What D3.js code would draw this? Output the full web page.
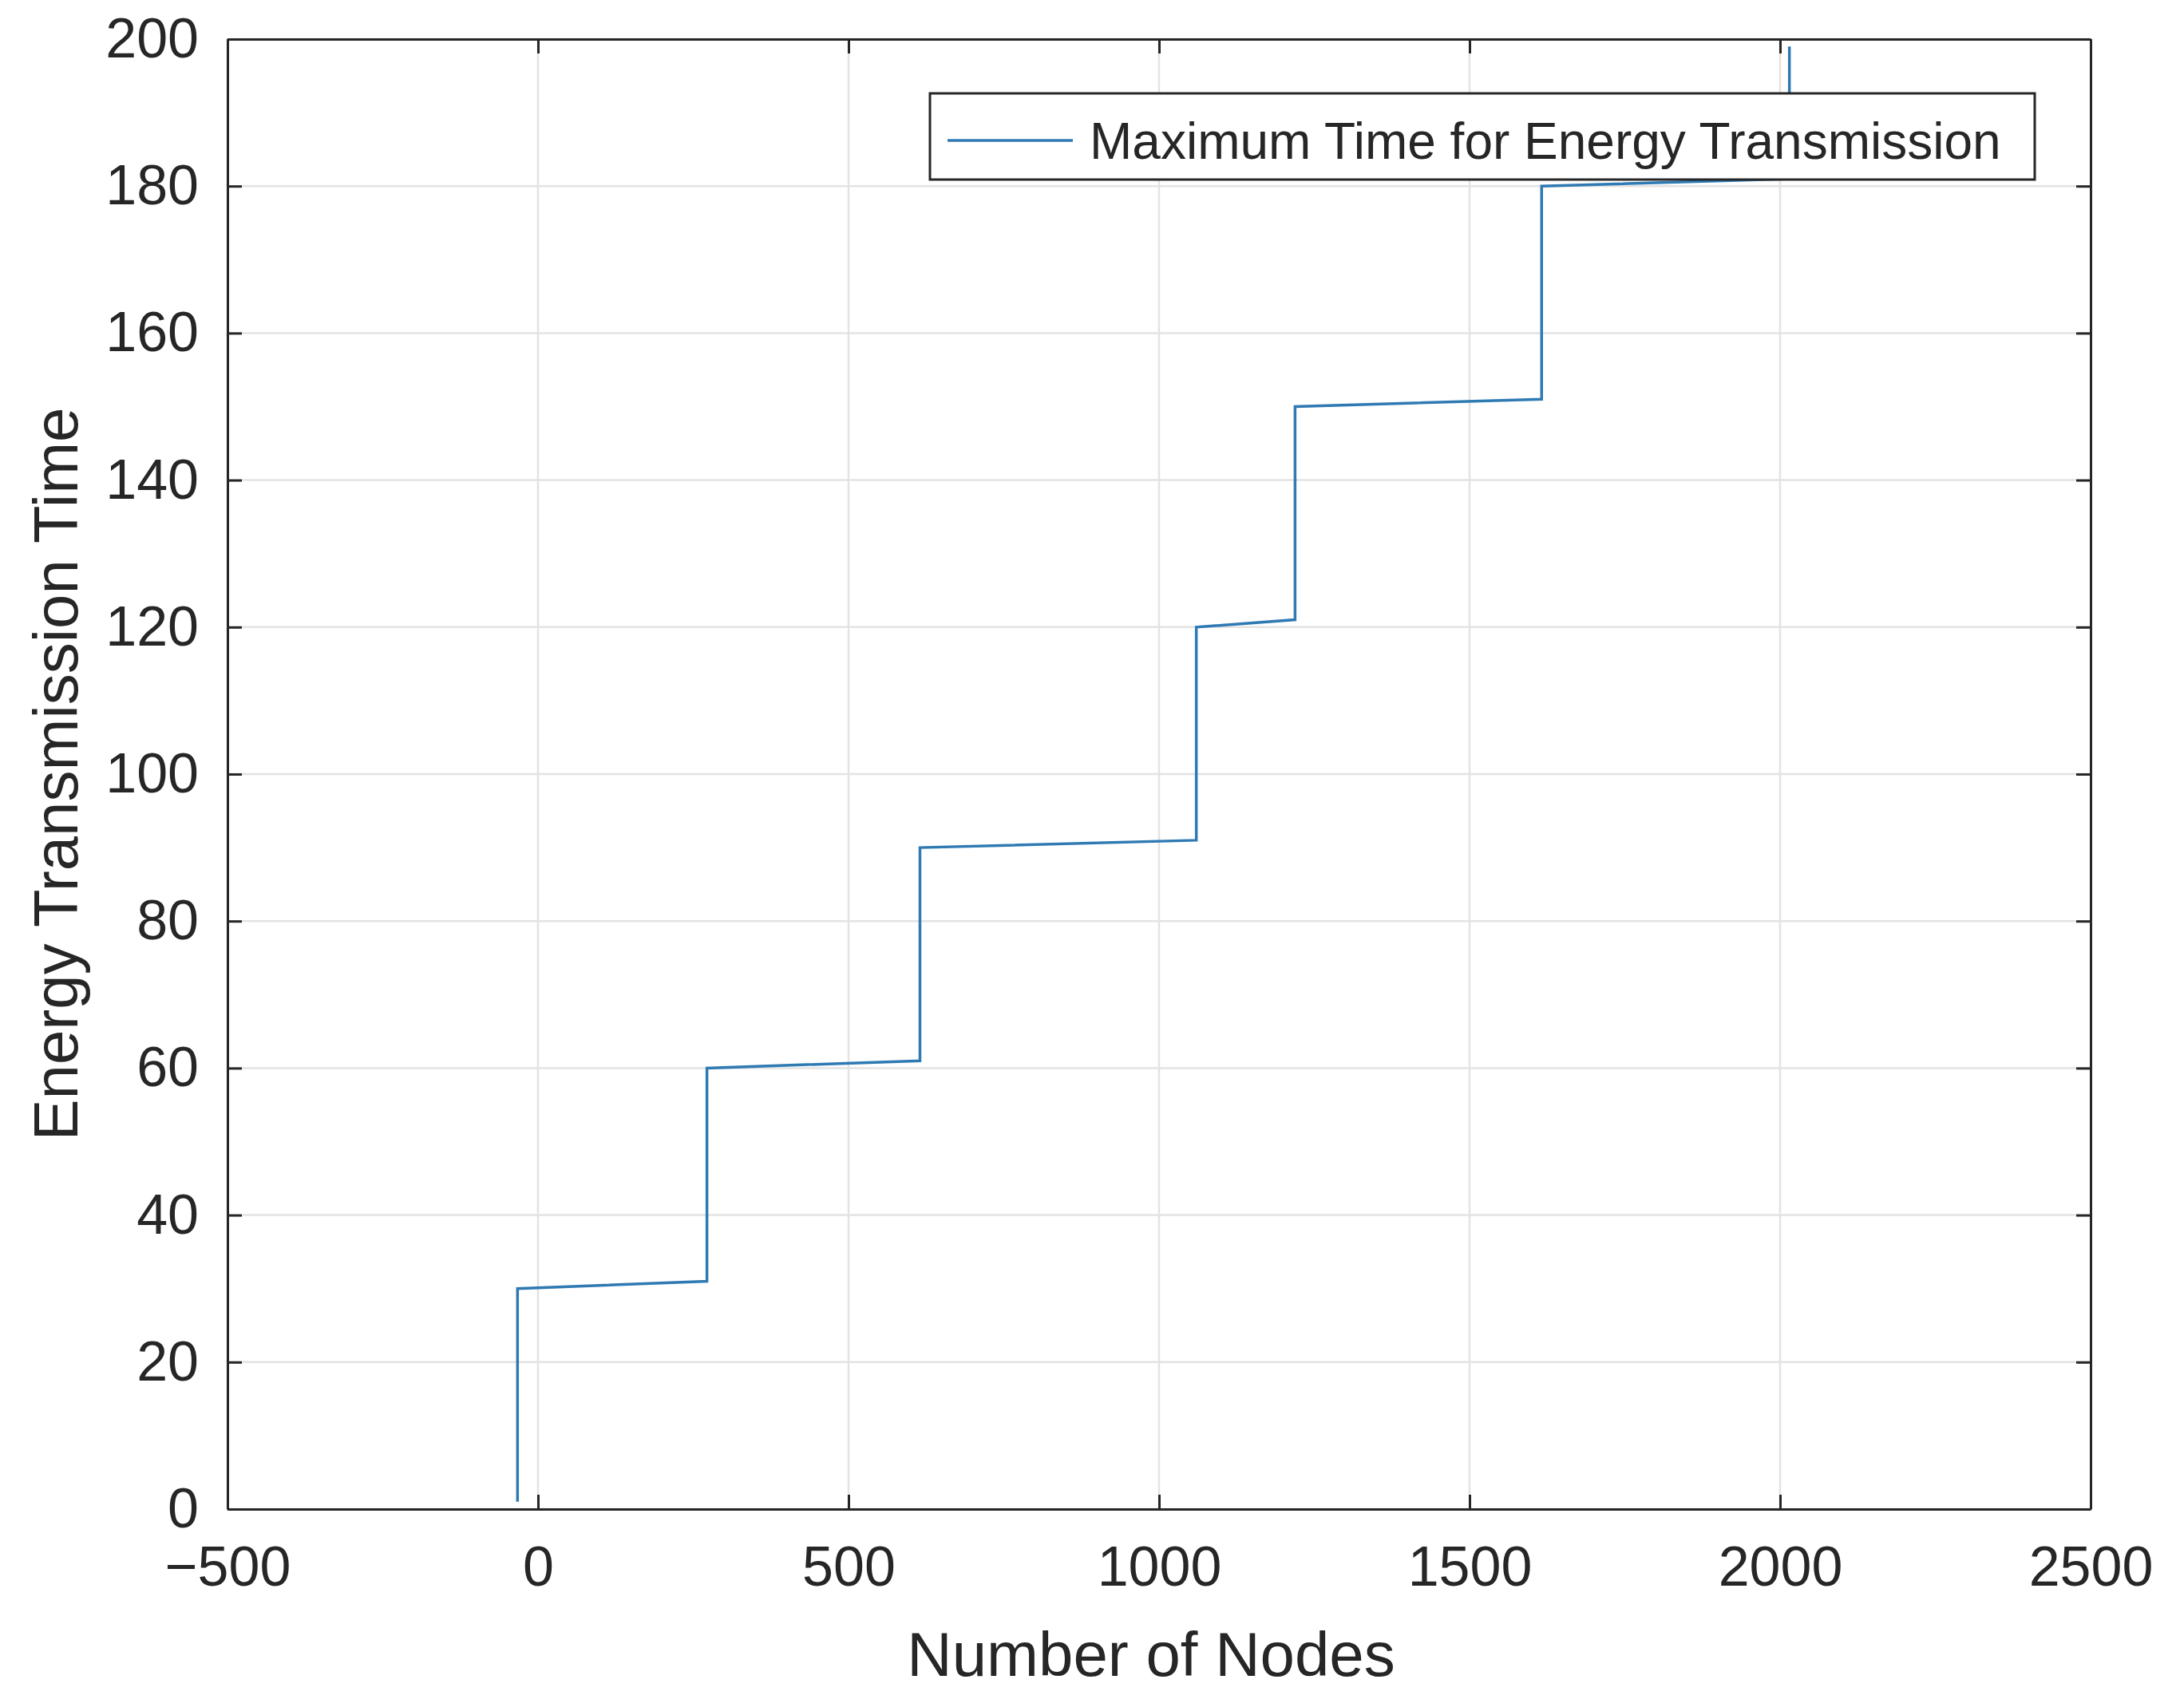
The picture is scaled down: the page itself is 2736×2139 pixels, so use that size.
<!DOCTYPE html>
<html lang="en">
<head>
    <meta charset="UTF-8">
    <title>Energy Transmission Time</title>
    <script src="https://cdn.jsdelivr.net/npm/d3@7"></script>
    <style>
        body { margin: 0; background: #fff; }
        text { font-family: "Liberation Sans", Arial, sans-serif; fill: #262626; }
    </style>
</head>
<body>
    <script>
        // step curve
        let nodes = [-33, -33, 272, 272, 615, 615, 1060, 1060, 1219, 1219, 1616, 1616, 2015, 2015];
        let times = [1, 30, 31, 60, 61, 90, 91, 120, 121, 150, 151, 180, 181, 199];
        let xTicks = [-500, 0, 500, 1000, 1500, 2000, 2500];
        let yTicks = [0, 20, 40, 60, 80, 100, 120, 140, 160, 180, 200];
        let seriesName = 'Maximum Time for Energy Transmission';

        let w = 2736, h = 2139;
        let m = {left: 285, right: 2619, top: 49, bottom: 1891};

        let svg = d3.select('body').append('svg')
                    .attr('width', w)
                    .attr('height', h);

        let x = d3.scaleLinear().domain([-500, 2500]).range([m.left, m.right]);
        let y = d3.scaleLinear().domain([0, 200]).range([m.bottom, m.top]);

        // grid
        svg.append('g').selectAll('line').data(xTicks).enter().append('line')
           .attr('x1', d => x(d)).attr('x2', d => x(d))
           .attr('y1', m.top).attr('y2', m.bottom)
           .attr('stroke', '#e3e3e3').attr('stroke-width', 2.5);
        svg.append('g').selectAll('line').data(yTicks).enter().append('line')
           .attr('y1', d => y(d)).attr('y2', d => y(d))
           .attr('x1', m.left).attr('x2', m.right)
           .attr('stroke', '#e3e3e3').attr('stroke-width', 2.5);

        // data line
        let pts = nodes.map((v, i) => [v, times[i]]);
        svg.append('path')
           .datum(pts)
           .attr('d', d3.line().x(d => x(d[0])).y(d => y(d[1])))
           .attr('fill', 'none')
           .attr('stroke', '#2f7ab3')
           .attr('stroke-width', 3.5);

        // axes, ticks pointing inward, on all four sides
        let tl = 18;
        function styleAxis(g) {
            g.selectAll('path').attr('stroke', '#262626').attr('stroke-width', 3);
            g.selectAll('line').attr('stroke', '#262626').attr('stroke-width', 3);
            g.selectAll('text').attr('font-size', 70).attr('fill', '#262626')
             .attr('font-family', '"Liberation Sans", Arial, sans-serif');
        }
        let fmt = d => d < 0 ? '\u2212' + Math.abs(d) : String(d);

        svg.append('g').attr('transform', `translate(0,${m.bottom})`)
           .call(d3.axisBottom(x).tickValues(xTicks).tickFormat(fmt).tickSizeInner(-tl).tickSizeOuter(0).tickPadding(46))
           .call(styleAxis);
        svg.append('g').attr('transform', `translate(0,${m.top})`)
           .call(d3.axisTop(x).tickValues(xTicks).tickFormat('').tickSizeInner(-tl).tickSizeOuter(0))
           .call(styleAxis);
        svg.append('g').attr('transform', `translate(${m.left},0)`)
           .call(d3.axisLeft(y).tickValues(yTicks).tickFormat(fmt).tickSizeInner(-tl).tickSizeOuter(0).tickPadding(36))
           .call(styleAxis);
        svg.append('g').attr('transform', `translate(${m.right},0)`)
           .call(d3.axisRight(y).tickValues(yTicks).tickFormat('').tickSizeInner(-tl).tickSizeOuter(0))
           .call(styleAxis);

        // axis titles
        svg.append('text')
           .attr('x', (m.left + m.right) / 2 - 10).attr('y', 2100)
           .attr('text-anchor', 'middle').attr('font-size', 78)
           .text('Number of Nodes');
        svg.append('text')
           .attr('transform', `translate(97,${(m.top + m.bottom) / 2}) rotate(-90)`)
           .attr('text-anchor', 'middle').attr('font-size', 78)
           .text('Energy Transmission Time');

        // legend
        let lg = svg.append('g');
        lg.append('rect')
          .attr('x', 1165).attr('y', 117).attr('width', 1384).attr('height', 108)
          .attr('fill', '#fff').attr('stroke', '#262626').attr('stroke-width', 3);
        lg.append('line')
          .attr('x1', 1187).attr('x2', 1344).attr('y1', 176).attr('y2', 176)
          .attr('stroke', '#2f7ab3').attr('stroke-width', 3.5);
        lg.append('text')
          .attr('x', 1365).attr('y', 199).attr('font-size', 64)
          .text(seriesName);
    </script>
</body>
</html>
